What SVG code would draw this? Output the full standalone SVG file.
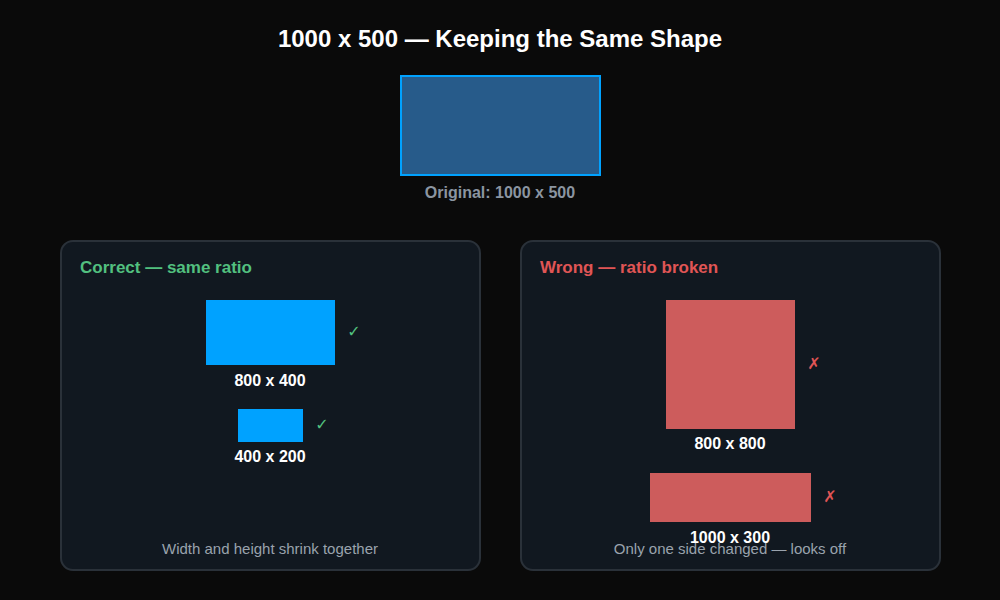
<svg xmlns="http://www.w3.org/2000/svg" width="1000" height="600" viewBox="0 0 1000 600">
<style>
text{font-family:"Liberation Sans",Arial,sans-serif}
.title{font-size:24px;font-weight:bold;fill:#ffffff}
.cap{font-size:16px;font-weight:bold;fill:#8b95a1}
.panel{fill:#111820;stroke:#2a3139;stroke-width:2}
.head{font-size:17px;font-weight:bold}
.lbl{font-size:16px;font-weight:bold;fill:#ffffff}
.note{font-size:15px;fill:#9aa3ad}
.blue{fill:#00a2ff}
.red{fill:#cd5c5c}
.mark{font-size:16px;font-family:"DejaVu Sans",sans-serif}
</style>
<rect width="1000" height="600" fill="#0a0a0a"/>
<text class="title" x="500" y="47" text-anchor="middle">1000 x 500 — Keeping the Same Shape</text>
<g id="original">
<rect x="401" y="76" width="199" height="99" fill="#275b8a" stroke="#00a2ff" stroke-width="2"/>
<text class="cap" x="500" y="198" text-anchor="middle">Original: 1000 x 500</text>
</g>
<g id="correct">
<rect class="panel" x="61" y="241" width="419" height="329" rx="12"/>
<text class="head" x="80" y="273" fill="#52c07f">Correct — same ratio</text>
<rect class="blue" x="206" y="300" width="129" height="65"/>
<text class="lbl" x="270" y="386" text-anchor="middle">800 x 400</text>
<text class="mark" x="354" y="337" text-anchor="middle" fill="#52c07f">✓</text>
<rect class="blue" x="238" y="409" width="65" height="33"/>
<text class="lbl" x="270" y="462" text-anchor="middle">400 x 200</text>
<text class="mark" x="322" y="430" text-anchor="middle" fill="#52c07f">✓</text>
<text class="note" x="270" y="554" text-anchor="middle">Width and height shrink together</text>
</g>
<g id="wrong">
<rect class="panel" x="521" y="241" width="419" height="329" rx="12"/>
<text class="head" x="540" y="273" fill="#e05555">Wrong — ratio broken</text>
<rect class="red" x="666" y="300" width="129" height="129"/>
<text class="lbl" x="730" y="449" text-anchor="middle">800 x 800</text>
<text class="mark" x="814" y="369" text-anchor="middle" fill="#e05555">✗</text>
<rect class="red" x="650" y="473" width="161" height="49"/>
<text class="lbl" x="730" y="543" text-anchor="middle">1000 x 300</text>
<text class="mark" x="830" y="502" text-anchor="middle" fill="#e05555">✗</text>
<text class="note" x="730" y="554" text-anchor="middle">Only one side changed — looks off</text>
</g>
<g id="connectors"/>
</svg>
